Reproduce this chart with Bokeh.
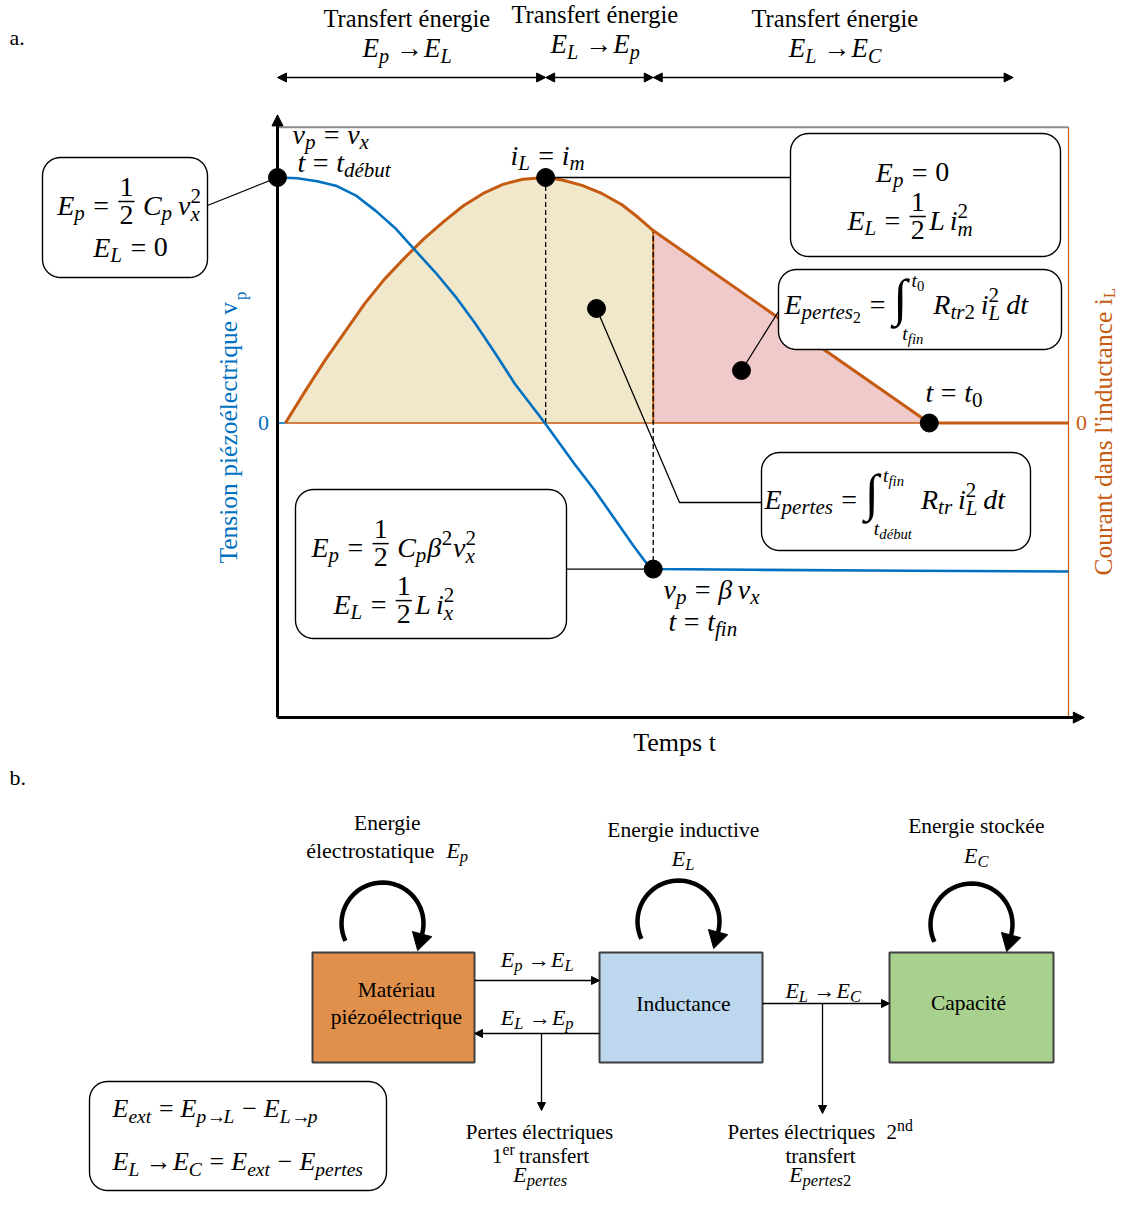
import math
from bokeh.plotting import figure
from bokeh.models import Range1d, ColumnDataSource, Arrow, NormalHead
from bokeh.embed import file_html
from bokeh.resources import INLINE
from bokeh.core.properties import value, field

# ---------------------------------------------------------------- data
phase_titles = ["Transfert énergie", "Transfert énergie", "Transfert énergie"]
phase_math = ["E_{p}→E_{L}", "E_{L}→E_{p}", "E_{L}→E_{C}"]
phase_edges = [0.0, 0.339, 0.475, 0.930]          # normalised time

# piezo voltage v_p (normalised to v_x) vs normalised time
t_vp = [0.000, 0.025, 0.050, 0.075, 0.100, 0.125, 0.150, 0.175, 0.200, 0.225, 0.250,
        0.275, 0.300, 0.338, 0.375, 0.400, 0.425, 0.450, 0.465, 0.475, 0.600, 0.800, 1.000]
vp = [1.000, 0.997, 0.985, 0.965, 0.925, 0.862, 0.790, 0.700, 0.612, 0.515, 0.405,
      0.285, 0.160, 0.000, -0.165, -0.270, -0.385, -0.500, -0.565, -0.595, -0.598, -0.602, -0.605]

# inductor current i_L (normalised to i_m) vs normalised time
t_il = [0.010, 0.035, 0.060, 0.085, 0.110, 0.135, 0.160, 0.185, 0.210, 0.235, 0.260,
        0.285, 0.310, 0.339, 0.360, 0.385, 0.410, 0.435, 0.455, 0.475, 0.824, 1.000]
il = [0.000, 0.130, 0.255, 0.370, 0.485, 0.585, 0.670, 0.750, 0.820, 0.885, 0.935,
      0.972, 0.993, 1.000, 0.990, 0.968, 0.935, 0.890, 0.840, 0.784, 0.000, 0.000]

t_debut, t_m, t_fin, t_0 = 0.0, 0.339, 0.475, 0.824
v_x, beta_vx, i_m = 1.0, -0.595, 1.0
v_axis_min, v_axis_max, t_axis_max = -1.2, 1.255, 1.02

blocks = ["Matériau\npiézoélectrique", "Inductance", "Capacité"]
block_colors = ["#E0904A", "#BDD7EE", "#A9D18E"]
block_titles = [["Energie", "\\r{électrostatique}   E_{p}"], ["Energie inductive", "E_{L}"],
                ["Energie stockée", "E_{C}"]]

# ---------------------------------------------------------------- page / scales
W, H = 1120, 1193
X0, Y0 = 0, 0
T0_PX, T1_PX = 277.0, 1068.0       # plot frame of part a
V0_PX, V1_PX = 422.5, 177.0        # zero and unit level
MID = 0.3375                        # baseline -> text-box centre (Liberation Serif)
SUB = 0.75                          # sub/superscript scale


def t_of_px(px):
    return (px - T0_PX) / (T1_PX - T0_PX)


def v_of_px(py):
    return (V0_PX - py) / (V0_PX - V1_PX)


def px_t(t):
    return T0_PX + t * (T1_PX - T0_PX)


def px_v(v):
    return V0_PX - v * (V0_PX - V1_PX)


p = figure(width=W, height=H, x_range=Range1d(X0, X0 + W), y_range=Range1d(Y0 + H, Y0),
           x_axis_type=None, y_axis_type=None, toolbar_location=None,
           output_backend="svg", min_border=0)
p.outline_line_color = None
p.grid.visible = False
p.background_fill_color = "white"
p.border_fill_color = "white"
p.extra_x_ranges = {"t": Range1d(t_of_px(X0), t_of_px(X0 + W))}
p.extra_y_ranges = {"v": Range1d(v_of_px(Y0 + H), v_of_px(Y0))}
TV = dict(x_range_name="t", y_range_name="v")

FONT = "Liberation Serif"
BLUE = "#0070C0"
ORANGE = "#C55A11"

# ---------------------------------------------------------------- text engine
ROM = dict(zip("abcdefghijklmnopqrstuvwxyz",
               [444, 500, 444, 500, 444, 333, 500, 500, 278, 278, 500, 278, 778, 500, 500, 500,
                500, 333, 389, 278, 500, 500, 722, 500, 500, 444]))
ROM.update(dict(zip("ABCDEFGHIJKLMNOPQRSTUVWXYZ",
                    [722, 667, 667, 722, 611, 556, 722, 722, 333, 389, 722, 611, 889, 722, 722,
                     556, 722, 667, 556, 611, 722, 722, 944, 722, 722, 611])))
ITA = dict(zip("abcdefghijklmnopqrstuvwxyz",
               [500, 500, 444, 500, 444, 278, 500, 500, 278, 278, 444, 278, 722, 500, 500, 500,
                500, 389, 389, 278, 500, 444, 667, 444, 444, 389]))
ITA.update(dict(zip("ABCDEFGHIJKLMNOPQRSTUVWXYZ",
                    [611, 611, 667, 722, 611, 611, 722, 722, 333, 444, 667, 556, 833, 667, 722,
                     611, 722, 611, 500, 556, 722, 611, 833, 611, 556, 556])))
for d in (ROM, ITA):
    d.update({c: 500 for c in "0123456789"})
    d.update({" ": 250, "é": 444, "'": 180, ".": 250, "β": 520, "=": 564, "→": 800,
              "−": 564, "∫": 274})


def tw(s, size, italic):
    tab = ITA if italic else ROM
    return sum(tab.get(c, 500) for c in s) / 1000.0 * size


TXT = {"normal": [], "italic": []}
BARS = []


def add_text(x, y, s, size, italic, color, raw=False):
    yy = y if raw else y - MID * size
    TXT["italic" if italic else "normal"].append((x, yy, s, size, color))


def group(s, i):
    if s[i] == "{":
        depth, j = 1, i + 1
        while depth:
            if s[j] == "{":
                depth += 1
            elif s[j] == "}":
                depth -= 1
            j += 1
        return s[i + 1:j - 1], j
    return s[i], i + 1


def parse(s):
    toks = []
    i = 0

    def push(kind, ch):
        if toks and toks[-1][0] == kind:
            toks[-1] = (kind, toks[-1][1] + ch)
        else:
            toks.append((kind, ch))

    while i < len(s):
        c = s[i]
        if c == "\\":
            cmd = s[i + 1]
            a, i = group(s, i + 2)
            if cmd in "fI":
                b, i = group(s, i)
                toks.append((cmd, parse(a), parse(b)))
            else:
                toks.append(("r", a))
                toks.append(("x",))
        elif c in "_^":
            a, i = group(s, i + 1)
            other = None
            if i < len(s) and s[i] in "_^" and s[i] != c:
                other, i = group(s, i + 1)
            sub, sup = (a, other) if c == "_" else (other, a)
            toks.append(("ss", parse(sub) if sub else None, parse(sup) if sup else None))
        elif c in "=→−+":
            toks.append(("op", c))
            i += 1
        elif c == " ":
            toks.append(("sp", 0.18))
            i += 1
        elif c.isdigit():
            push("r", c)
            i += 1
        else:
            push("i", c)
            i += 1
    return toks


def render(toks, x, y, size, color, draw):
    x0 = x
    for tok in toks:
        k = tok[0]
        if k in ("i", "r"):
            if draw:
                add_text(x, y, tok[1], size, k == "i", color)
            x += tw(tok[1], size, k == "i")
        elif k == "x":
            pass
        elif k == "sp":
            x += tok[1] * size
        elif k == "op":
            pad = (0.27 if size >= 20 else 0.08) * size
            shift = -0.05 * size if tok[1] == "→" else 0.0
            if draw:
                add_text(x + pad + shift, y, tok[1], size, False, color)
            x += tw(tok[1], size, False) + 2 * pad + 1.5 * shift
        elif k == "ss":
            sub, sup = tok[1], tok[2]
            w1 = w2 = 0
            if sub:
                w1 = render(sub, x, y + (0.24 if sup else 0.2) * size, SUB * size, color, draw)
            if sup:
                w2 = render(sup, x, y - 0.42 * size, SUB * size, color, draw)
            x += max(w1, w2) + 0.03 * size
        elif k == "f":
            num, den = tok[1], tok[2]
            wn = render(num, 0, 0, size, color, False)
            wd = render(den, 0, 0, size, color, False)
            wf = max(wn, wd) + 0.2 * size
            ax = y - 0.46 * size
            if draw:
                render(num, x + (wf - wn) / 2, ax - 0.2 * size, size, color, True)
                render(den, x + (wf - wd) / 2, ax + 0.8 * size, size, color, True)
                BARS.append((x + 0.06 * size, x + wf - 0.06 * size, ax))
            x += wf + 0.06 * size
        elif k == "I":
            low, up = tok[1], tok[2]
            isz = 1.84 * size
            iw = tw("∫", isz, False)
            if draw:
                add_text(x, y - 0.575 * size, "∫", isz, False, color, raw=True)
            wu = render(up, x + iw * 1.3, y - 0.95 * size, 0.7 * size, color, draw)
            wl = render(low, x + iw * 0.65, y + 0.95 * size, 0.7 * size, color, draw)
            x += max(iw * 1.3 + wu, iw * 0.65 + wl) + 0.12 * size
    return x - x0


def eq(markup, x, y, size, color="black", align="left"):
    toks = parse(markup)
    w = render(toks, 0, 0, size, color, False)
    if align == "center":
        x -= w / 2
    elif align == "right":
        x -= w
    render(toks, x, y, size, color, True)


def rtext(s, x, y, size, color="black", align="center"):
    eq("\\r{" + s + "}", x, y, size, color, align)


def rbox(x0, y0, x1, y1, r=18, n=10):
    xs, ys = [], []
    for cx, cy, a0, a1 in [(x1 - r, y0 + r, -90, 0), (x1 - r, y1 - r, 0, 90),
                           (x0 + r, y1 - r, 90, 180), (x0 + r, y0 + r, 180, 270)]:
        for k in range(n + 1):
            a = math.radians(a0 + (a1 - a0) * k / n)
            xs.append(cx + r * math.cos(a))
            ys.append(cy + r * math.sin(a))
    return xs, ys


def head():
    return NormalHead(size=9, fill_color="black", line_color="black", line_width=1)


# ================================================================ part a
MS = 28  # math size

# fills under i_L
k_fin = t_il.index(t_fin)
k_0 = t_il.index(t_0)
p.varea(x=t_il[:k_fin + 1], y1=[0] * (k_fin + 1), y2=il[:k_fin + 1], fill_color="#F1E7CA", **TV)
p.varea(x=t_il[k_fin:k_0 + 1], y1=[0] * (k_0 - k_fin + 1), y2=il[k_fin:k_0 + 1],
        fill_color="#F0C9CA", **TV)

# zero line and frame
p.line(x=[t_il[0], 1.0], y=[0, 0], line_color=ORANGE, line_width=1.6, **TV)
p.line(x=[0, t_il[0]], y=[0, 0], line_color=BLUE, line_width=1.6, **TV)
p.line(x=[0, 1.0], y=[v_axis_max - 0.05, v_axis_max - 0.05], line_color="#8C8C8C", line_width=2, **TV)
p.line(x=[1.0, 1.0], y=[v_axis_min, v_axis_max - 0.05], line_color=ORANGE, line_width=1.2, **TV)
p.add_layout(Arrow(end=NormalHead(size=11, fill_color="black", line_color="black"),
                   x_start=0, y_start=v_axis_min, x_end=0, y_end=v_axis_max,
                   line_width=3, **TV))
p.add_layout(Arrow(end=NormalHead(size=11, fill_color="black", line_color="black"),
                   x_start=0, y_start=v_axis_min, x_end=t_axis_max, y_end=v_axis_min,
                   line_width=3, **TV))

# vertical markers
p.line(x=[t_fin, t_fin], y=[0, il[k_fin]], line_color=ORANGE, line_width=2, **TV)
p.line(x=[t_m, t_m], y=[0, i_m], line_color="black", line_width=1.3, line_dash="5 3", **TV)
p.line(x=[t_fin, t_fin], y=[beta_vx, il[k_fin]], line_color="black", line_width=1.3,
       line_dash="5 3", **TV)

# curves
p.line(x=t_il, y=il, line_color=ORANGE, line_width=3, **TV)
p.line(x=t_vp, y=vp, line_color=BLUE, line_width=2.6, **TV)

# connectors (pixel layout)
cx_ = [[207, px_t(t_debut)], [px_t(t_m), 790], [596, 679, 761], [741, 778], [px_t(t_fin), 566]]
cy_ = [[205, px_v(v_x)], [px_v(i_m), px_v(i_m)], [308, 502, 502], [370, 311],
       [px_v(beta_vx), px_v(beta_vx)]]
p.multi_line(xs=cx_, ys=cy_, line_color="black", line_width=1.3)

# key points
p.scatter(x=[t_debut, t_m, t_0, t_fin], y=[v_x, i_m, 0, beta_vx], size=18,
          color="black", **TV)
p.scatter(x=[596, 741], y=[308, 370], size=18, color="black")

# boxes
bx = [(42, 157, 207, 277), (790, 133, 1060, 256), (778, 269, 1061, 349),
      (761, 452, 1030, 550), (295, 489, 566, 638), (89, 1081, 386, 1190)]
bxs, bys = zip(*[rbox(*b) for b in bx])
p.patches(xs=list(bxs), ys=list(bys), fill_color="white", line_color="black", line_width=1.4)

# phase arrows and titles
for a, b in zip(phase_edges[:-1], phase_edges[1:]):
    p.add_layout(Arrow(start=head(), end=head(), x_start=a, x_end=b, y_start=77, y_end=77,
                       line_width=1.4, x_range_name="t"))
for k, (ttl, mth) in enumerate(zip(phase_titles, phase_math)):
    cxp = [407, 595, 835][k]
    base = [26, 22, 26][k]
    rtext(ttl, cxp, base, 24.5)
    eq(mth, cxp, base + 31, 27, align="center")

rtext("a.", 9, 44, 22, align="left")
rtext("b.", 9, 784, 22, align="left")
rtext("Temps t", 675, 751, 26)
rtext("0", 263, 430, 22, BLUE)
rtext("0", 1081, 430, 22, ORANGE)

# annotations in the plot
eq("v_{p}=v_{x}", 292, 143, MS)
eq("t=t_{début}", 297, 171, MS)
eq("i_{L}=i_{m}", 510, 164, MS)
eq("t=t_{0}", 925, 401, MS)
eq("v_{p}=β v_{x}", 663, 598, MS)
eq("t=t_{fin}", 668, 630, MS)

eq("E_{p}=\\f{1}{2} C_{p} v_{x}^{2}", 129, 214, MS, align="center")
eq("E_{L}=0", 130, 256, MS, align="center")
eq("E_{p}=0", 912, 181, MS, align="center")
eq("E_{L}=\\f{1}{2}L i_{m}^{2}", 910, 229, MS, align="center")
eq("E_{pertes_{2}}=\\I{t_{fin}}{t_{0}} R_{tr2} i_{L}^{2} dt", 784, 313, MS)
eq("E_{pertes}=\\I{t_{début}}{t_{fin}} R_{tr} i_{L}^{2} dt", 764, 508, MS)
eq("E_{p}=\\f{1}{2} C_{p}β^{2}v_{x}^{2}", 311, 556, MS)
eq("E_{L}=\\f{1}{2}L i_{x}^{2}", 333, 613, MS)

# ================================================================ part b
bxl = [312, 599, 889]
bxr = [474, 762, 1053]
p.quad(left=bxl, right=bxr, top=[952] * 3, bottom=[1062] * 3, fill_color=block_colors,
       line_color="#3F3F3F", line_width=2)
rtext(blocks[0].split("\n")[0], 396, 997, 21.5)
rtext(blocks[0].split("\n")[1], 396, 1024, 21.5)
rtext(blocks[1], 683, 1011, 21.5)
rtext(blocks[2], 968, 1010, 21.5)

centers = [(382, 923), (678, 921), (971, 924)]
R = 41
arc_x, arc_y, hx, hy = [], [], [], []
for (ccx, ccy) in centers:
    th = [math.radians(205 - k * (220.0 / 40)) for k in range(41)]
    arc_x.append([ccx + R * math.cos(a) for a in th])
    arc_y.append([ccy - R * math.sin(a) for a in th])
    a = th[-1]
    ex, ey = arc_x[-1][-1], arc_y[-1][-1]
    dx, dy = math.sin(a), math.cos(a)
    nx, ny = -dy, dx
    hx.append([ex + dx * 17, ex + nx * 10, ex - nx * 10])
    hy.append([ey + dy * 17, ey + ny * 10, ey - ny * 10])
p.multi_line(xs=arc_x, ys=arc_y, line_color="black", line_width=4.5)
p.patches(xs=hx, ys=hy, fill_color="black", line_color="black")

for (ccx, _), (l1, l2), yb in zip(centers, block_titles, [(830, 857), (837, 865), (833, 862)]):
    rtext(l1, ccx + 5, yb[0], 21.5)
    eq(l2, ccx + 5, yb[1], 22, align="center")

flows = [(474, 980, 599, 980), (599, 1033, 474, 1033), (541, 1033, 541, 1110),
         (762, 1003, 889, 1003), (822, 1003, 822, 1113)]
for x1, y1, x2, y2 in flows:
    p.add_layout(Arrow(end=NormalHead(size=8, fill_color="black", line_color="black"),
                       x_start=x1, y_start=y1, x_end=x2, y_end=y2, line_width=1.3))
eq("E_{p}→E_{L}", 537, 966, 22, align="center")
eq("E_{L}→E_{p}", 537, 1024, 22, align="center")
eq("E_{L}→E_{C}", 823, 997, 22, align="center")

rtext("Pertes électriques", 539, 1139, 21)
eq("\\r{1}^{\\r{er}} \\r{transfert}", 540, 1163, 21, align="center")
eq("E_{pertes}", 540, 1181, 22, align="center")
eq("\\r{Pertes électriques}   \\r{2}^{\\r{nd}}", 820, 1139, 21, align="center")
rtext("transfert", 820, 1163, 21)
eq("E_{pertes2}", 820, 1181, 22, align="center")

eq("E_{ext}=E_{p→L}−E_{L→p}", 112, 1117, 26)
eq("E_{L}→E_{C}=E_{ext}−E_{pertes}", 112, 1170, 26)

# ---------------------------------------------------------------- emit texts
if BARS:
    p.multi_line(xs=[[b[0], b[1]] for b in BARS], ys=[[b[2], b[2]] for b in BARS],
                 line_color="black", line_width=1.5)
for style, rows in TXT.items():
    src = ColumnDataSource(dict(x=[r[0] for r in rows], y=[r[1] for r in rows],
                                text=[r[2] for r in rows],
                                size=["%.1fpx" % r[3] for r in rows],
                                color=[r[4] for r in rows]))
    p.text(x="x", y="y", text="text", source=src, text_font=value(FONT),
           text_font_style=style, text_font_size=field("size"), text_color=field("color"),
           text_align="left", text_baseline="alphabetic")

# rotated axis labels (x given as text baseline, shifted to the box centre)
ylab_l = "Tension piézoélectrique v"
ylab_r = "Courant dans l'inductance i"
YS, SS = 25.5, 17.0
wl = tw(ylab_l, YS, False)
wr = tw(ylab_r, YS, False)
rot = [(ylab_l, 236.5, 563, YS, BLUE), ("p", 246.0, 563 - wl, SS, BLUE),
       (ylab_r, 1112.0, 575, YS, ORANGE), ("L", 1115.0, 575 - wr, SS, ORANGE)]
for s, xb, yb, fs, col in rot:
    p.text(x=[xb - MID * fs], y=[yb], text=[s], angle=math.pi / 2, text_font=value(FONT),
           text_font_size="%.1fpx" % fs, text_color=col, text_baseline="alphabetic",
           text_align="left")

open("out.html", "w").write(file_html(p, INLINE))
